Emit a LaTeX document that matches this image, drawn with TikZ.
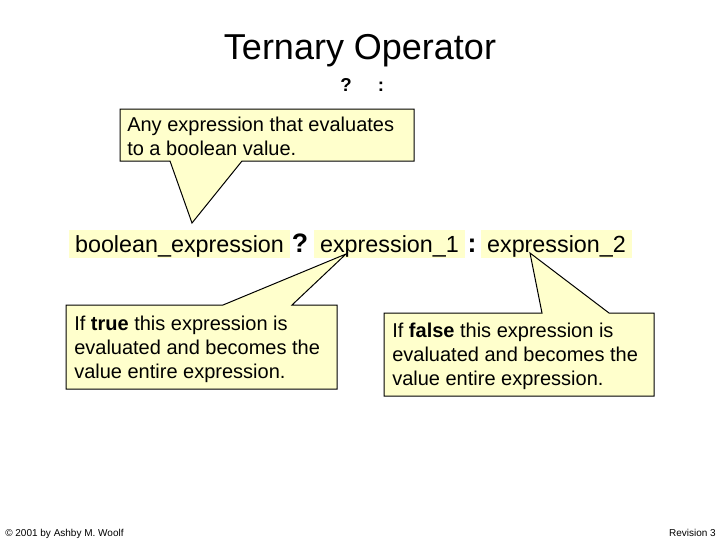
\documentclass[tikz,border=0pt]{standalone}
\usepackage{fontspec}
\setmainfont{Liberation Sans}
\definecolor{tipfill}{HTML}{FFFFCC}
\tikzset{
  callout/.style={draw=black, fill=tipfill, line width=0.75pt, line join=miter},
  hl/.style={fill=tipfill, inner xsep=4.5pt, inner ysep=0pt, text height=16.5pt, text depth=4.5pt, anchor=base, font=\fontsize{17.5}{21}\selectfont},
  opsym/.style={inner sep=0pt, anchor=base, font=\fontsize{20}{24}\selectfont\bfseries},
  ctext/.style={anchor=north west, inner sep=0pt, align=left, font=\fontsize{15}{18}\selectfont},
  foot/.style={inner sep=0pt, font=\fontsize{7.5}{9}\selectfont}
}
\begin{document}
\begin{tikzpicture}[x=0.75pt,y=-0.75pt]
\useasboundingbox (0,0) rectangle (720,540);

% title
\node[anchor=base, inner sep=0pt, font=\fontsize{27}{32}\selectfont] (title) at (360,59) {Ternary Operator};
\node[anchor=base, inner sep=0pt, font=\fontsize{14}{17}\selectfont\bfseries] (tq) at (346,91) {?};
\node[anchor=base, inner sep=0pt, font=\fontsize{14}{17}\selectfont\bfseries] (tc) at (381,91) {:};

% middle expression
\node[hl] (bexp) at (179.5,252) {boolean\_expression};
\node[hl] (exp1) at (389.5,252) {expression\_1};
\node[hl] (exp2) at (556.5,252) {expression\_2};
\node[opsym] (qm) at (300,252) {?};
\node[opsym] (col) at (472,252) {:};

% callout tips
\coordinate (tipA) at (192,223);
\coordinate (tipB) at (346,254);
\coordinate (tipC) at (530,253);

% top callout
\draw[callout] (120,109) -- (414,109) -- (414,161) -- (242,161) -- (tipA) -- (170,161) -- (120,161) -- cycle;
\node[ctext] (note1) at (127,114.2) {\strut Any expression that evaluates\\\strut to a boolean value.};

% lower-left callout
\draw[callout] (66,305) -- (223,305) -- (tipB) -- (292,305) -- (337,305) -- (337,389) -- (66,389) -- cycle;
\node[ctext] (note2) at (74,313.2) {\strut If \textbf{true} this expression is\\\strut evaluated and becomes the\\\strut value entire expression.};

% lower-right callout
\draw[callout] (384,313) -- (542,313) -- (tipC) -- (609,313) -- (654,313) -- (654,396) -- (384,396) -- cycle;
\node[ctext] (note3) at (392,320.2) {\strut If \textbf{false} this expression is\\\strut evaluated and becomes the\\\strut value entire expression.};

% footer
\node[foot, anchor=base west] (copy) at (5,536) {© 2001 by Ashby M. Woolf};
\node[foot, anchor=base east] (rev) at (716,536) {Revision 3};
\end{tikzpicture}
\end{document}
